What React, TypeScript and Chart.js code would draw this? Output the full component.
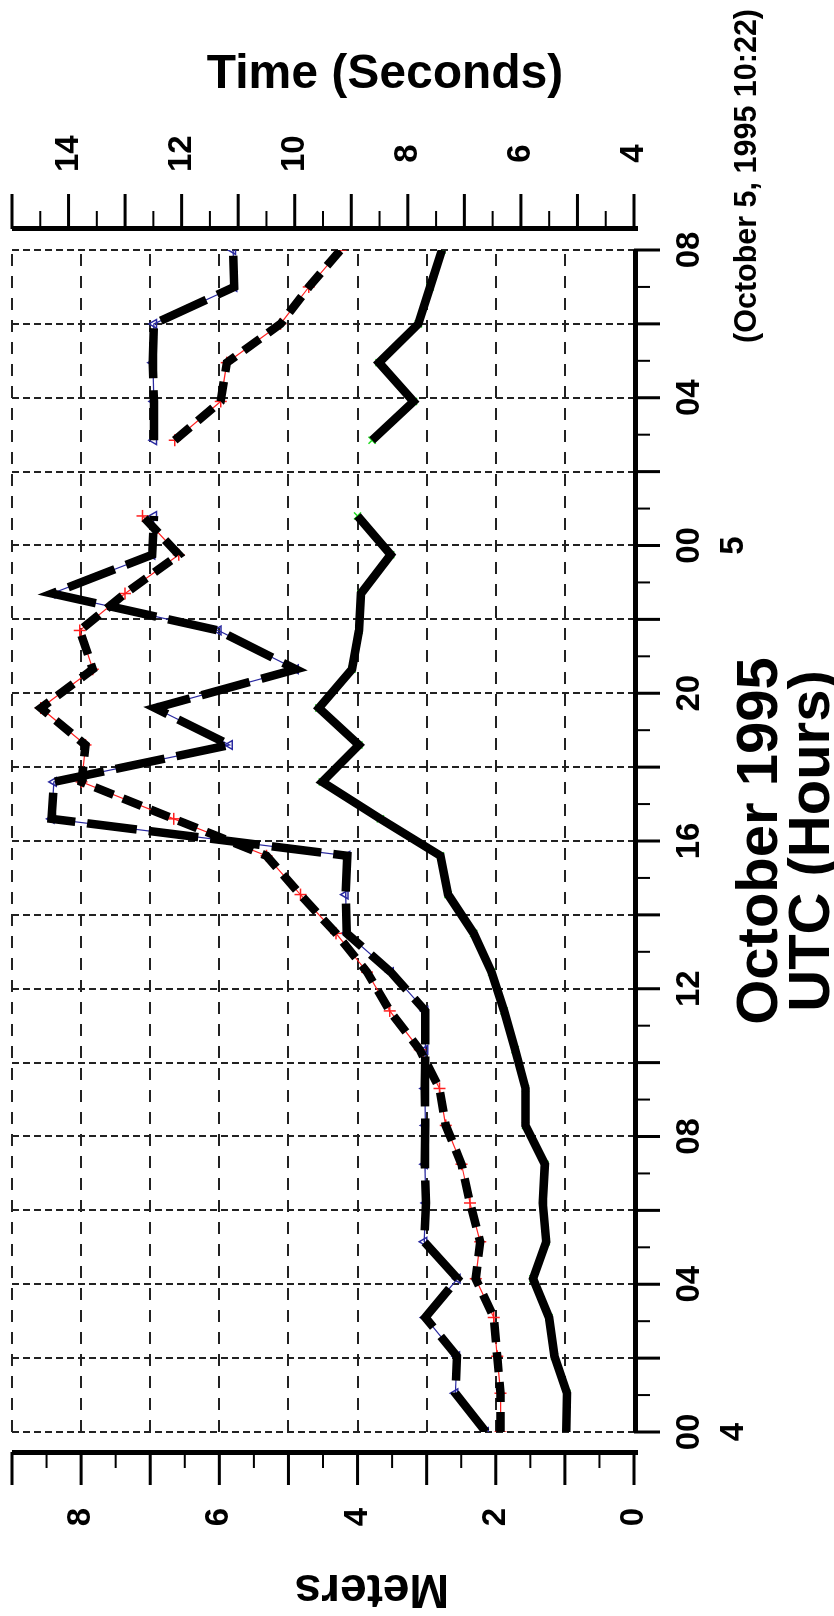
import React, { useEffect, useRef } from 'react';
import { Chart, registerables } from 'chart.js';

Chart.register(...registerables);

// ---- data (hours since 00 UTC, October 4 1995) ----
const hours = [0, 1.05, 2.05, 3.1, 4.15, 5.15, 6.2, 7.25, 8.3, 9.3, 10.35, 11.4, 12.45, 13.5, 14.55, 15.6, 16.6, 17.6, 18.6, 19.6, 20.65, 21.7, 22.7, 23.75, 24.8, 25.8, 26.85, 27.9, 28.95, 30.0, 31.0, 32.0];
const waveHeightM = [0.98, 0.97, 1.15, 1.23, 1.46, 1.27, 1.32, 1.29, 1.57, 1.57, 1.72, 1.88, 2.06, 2.32, 2.69, 2.8, 3.67, 4.51, 3.98, 4.56, 4.08, 3.98, 3.95, 3.52, 4.0, null, 3.79, 3.19, 3.69, 3.12, 2.95, 2.78];
const avgPeriodS = [6.36, 6.36, 6.42, 6.48, 6.8, 6.72, 6.9, 7.05, 7.33, 7.44, 7.79, 8.32, 8.72, 9.27, 9.9, 10.5, 12.14, 13.77, 13.7, 14.49, 13.57, 13.8, 13.0, 12.05, 12.69, null, 12.12, 11.31, 11.2, 10.25, 9.75, 9.19];
const domPeriodS = [6.62, 7.16, 7.13, 7.69, 7.12, 7.71, 7.68, 7.7, 7.69, 7.7, 7.69, 7.69, 8.3, 9.08, 9.1, 9.07, 14.3, 14.26, 11.15, 12.47, 9.98, 11.35, 14.29, 12.52, 12.49, null, 12.49, 12.49, 12.51, 12.49, 11.07, 11.09];

// ---- tick labels ----
const hourLabelAt = [0, 4, 8, 12, 16, 20, 24, 28, 32];
const hourLabelText = ['00', '04', '08', '12', '16', '20', '00', '04', '08'];
const dayLabelAt = [0, 24];
const dayLabelText = ['4', '5'];
const meterLabelAt = [0, 2, 4, 6, 8];
const secondLabelAt = [4, 6, 8, 10, 12, 14];

const FONT = "'Liberation Sans', Arial, Helvetica, sans-serif";

const pts = (vals: (number | null)[]) => hours.map((h, i) => ({ x: h, y: vals[i] }));

const axisDeco = {
  id: 'axisDeco',
  afterDraw(chart: any) {
    const { ctx, chartArea: ca, scales } = chart;
    const xs = scales.x, ym = scales.y, yt = scales.y1;
    ctx.save();
    ctx.fillStyle = '#000';
    // hours axis (bottom of original)
    ctx.fillRect(ca.left, ca.bottom - 1, ca.right - ca.left, 5);
    for (let h = 0; h <= 32; h++) {
      const p = xs.getPixelForValue(h);
      const major = h % 2 === 0;
      ctx.fillRect(p - (major ? 1.5 : 1), ca.bottom, major ? 3 : 2, major ? 26 : 16);
    }
    // meters axis (left, detached)
    const mLine = ca.left - 23;
    ctx.fillRect(mLine, ca.top, 5, ca.bottom - ca.top + 4);
    for (let k = 0; k <= 18; k++) {
      const v = k / 2;
      const p = ym.getPixelForValue(v);
      const major = k % 2 === 0;
      const len = major ? 33 : 16;
      ctx.fillRect(mLine + 3 - len, p - (major ? 1.5 : 1), len, major ? 3 : 2);
    }
    // time axis (right, detached)
    const tLine = ca.right + 19;
    ctx.fillRect(tLine, ca.top, 5, ca.bottom - ca.top + 4);
    for (let k = 8; k <= 30; k++) {
      const v = k / 2;
      const p = yt.getPixelForValue(v);
      const major = k % 2 === 0;
      const len = major ? 35 : 18;
      ctx.fillRect(tLine + 2, p - (major ? 1.5 : 1), len, major ? 3 : 2);
    }

    // titles
    ctx.textAlign = 'center';
    ctx.textBaseline = 'middle';
    ctx.font = `bold 48px ${FONT}`;
    ctx.save();
    ctx.translate(28, 372);
    ctx.rotate(-Math.PI / 2);
    ctx.fillText('Meters', 0, 0);
    ctx.restore();
    ctx.save();
    ctx.translate(1541, 385);
    ctx.rotate(Math.PI / 2);
    ctx.fillText('Time (Seconds)', 0, 0);
    ctx.restore();

    ctx.font = `bold 58px ${FONT}`;
    const cx = (ca.left + ca.right) / 2;
    ctx.fillText('October 1995', cx, 761);
    ctx.fillText('UTC (Hours)', cx, 813);

    ctx.font = `bold 30.5px ${FONT}`;
    ctx.textAlign = 'right';
    ctx.fillText('(October 5, 1995 10:22)', 1607, 748);
    ctx.restore();
  },
};

export default function App() {
  const ref = useRef<HTMLCanvasElement>(null);
  useEffect(() => {
    const tickFont = { family: FONT, size: 33, weight: 'bold' as const };
    const chart = new Chart(ref.current as HTMLCanvasElement, {
      type: 'line',
      data: {
        datasets: [
          { data: pts(waveHeightM), yAxisID: 'y', borderColor: '#000', borderWidth: 8.5, pointRadius: 0, pointHoverRadius: 0, order: 0 },
          { data: pts(avgPeriodS), yAxisID: 'y1', borderColor: '#000', borderWidth: 8.5, borderDash: [20, 10], pointRadius: 0, pointHoverRadius: 0, order: 0 },
          { data: pts(domPeriodS), yAxisID: 'y1', borderColor: '#000', borderWidth: 8.5, borderDash: [50, 12], pointRadius: 0, pointHoverRadius: 0, order: 0 },
          { data: pts(waveHeightM), yAxisID: 'y', borderColor: '#22dd22', borderWidth: 1, pointStyle: 'crossRot', pointRadius: 5, pointBorderColor: '#22dd22', pointBorderWidth: 1.5, order: 1 },
          { data: pts(avgPeriodS), yAxisID: 'y1', borderColor: '#ff2020', borderWidth: 1.2, pointStyle: 'cross', pointRadius: 6, pointBorderColor: '#ff2020', pointBorderWidth: 1.5, order: 1 },
          { data: pts(domPeriodS), yAxisID: 'y1', borderColor: '#2a2aa0', borderWidth: 1.2, pointStyle: 'triangle', pointRadius: 5, pointBorderColor: '#2a2aa0', pointBackgroundColor: 'rgba(0,0,0,0)', pointBorderWidth: 1.5, order: 1 },
        ],
      },
      options: {
        responsive: false,
        animation: false,
        devicePixelRatio: 1,
        layout: { padding: { top: 12, left: 0, right: 0, bottom: 0 } },
        plugins: { legend: { display: false }, tooltip: { enabled: false } },
        scales: {
          x: {
            type: 'linear',
            position: 'bottom',
            min: 0,
            max: 32,
            border: { display: false, dash: [7, 4] },
            grid: { color: '#222', lineWidth: 2, drawTicks: false },
            ticks: {
              stepSize: 2,
              autoSkip: false,
              maxRotation: 0,
              minRotation: 0,
              padding: 33,
              color: '#000',
              font: { ...tickFont, lineHeight: 1.36 },
              callback: (v: any) => {
                const i = hourLabelAt.indexOf(Number(v));
                if (i < 0) return '';
                const d = dayLabelAt.indexOf(Number(v));
                return d >= 0 ? [hourLabelText[i], dayLabelText[d]] : hourLabelText[i];
              },
            },
            afterFit: (s: any) => { s.height = 200; s.paddingLeft = 0; s.paddingRight = 0; },
          },
          y: {
            type: 'linear',
            position: 'left',
            min: 0,
            max: 9,
            border: { display: false, dash: [12, 10] },
            grid: { color: '#222', lineWidth: 2, drawTicks: false },
            ticks: {
              stepSize: 1,
              autoSkip: false,
              crossAlign: 'center',
              padding: 76,
              color: '#000',
              font: tickFont,
              callback: (v: any) => (meterLabelAt.includes(Number(v)) ? String(v) : ''),
            },
            afterFit: (s: any) => { s.width = 184; s.paddingTop = 0; s.paddingBottom = 0; },
          },
          y1: {
            type: 'linear',
            position: 'right',
            min: 4,
            max: 15,
            border: { display: false },
            grid: { display: false, drawOnChartArea: false, drawTicks: false },
            ticks: {
              stepSize: 1,
              autoSkip: false,
              crossAlign: 'center',
              padding: 78,
              color: '#000',
              font: tickFont,
              callback: (v: any) => (secondLabelAt.includes(Number(v)) ? String(v) : ''),
            },
            afterFit: (s: any) => { s.width = 250; s.paddingTop = 0; s.paddingBottom = 0; },
          },
        },
      },
      plugins: [axisDeco],
    } as any);
    return () => chart.destroy();
  }, []);

  return (
    <div
      style={{
        position: 'fixed',
        left: 0,
        top: 0,
        width: 1616,
        height: 834,
        background: '#fff',
        transformOrigin: '0 0',
        transform: 'translate(0px, 1616px) rotate(-90deg)',
      }}
    >
      <canvas ref={ref} width={1616} height={834} style={{ display: 'block', width: 1616, height: 834 }} />
    </div>
  );
}
